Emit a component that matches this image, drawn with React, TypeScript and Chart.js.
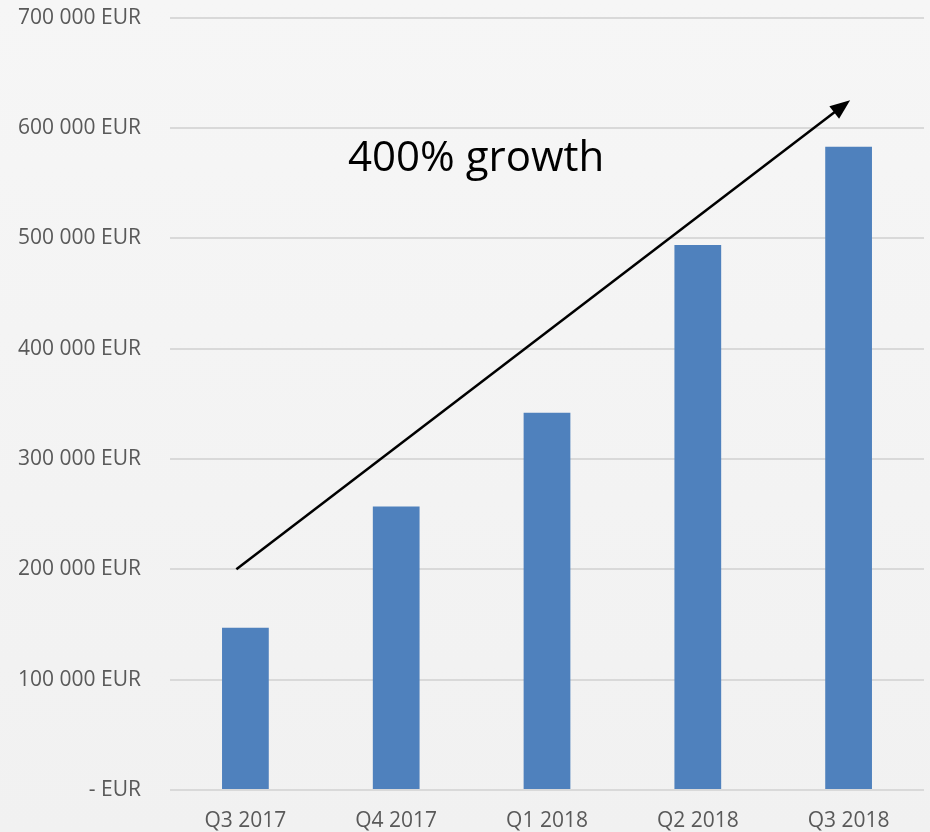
import React, { useEffect, useRef } from "react";
import { Chart, registerables } from "chart.js";

Chart.register(...registerables);

const categories = ["Q3 2017", "Q4 2017", "Q1 2018", "Q2 2018", "Q3 2018"];
const revenue = [147000, 257000, 342000, 494000, 583000];
const yTicks = [0, 100000, 200000, 300000, 400000, 500000, 600000, 700000];
const annotationText = "400% growth";
// arrow in data coordinates: [categoryIndex, value]
const arrowStart = [-0.06, 200000];
const arrowEnd = [4.01, 625000];
const textAnchor = [1.53, 572000];

const fmt = (v: number) => {
  if (v === 0) return "- EUR";
  return String(v).replace(/\B(?=(\d{3})+(?!\d))/g, " ") + " EUR";
};

const annotationPlugin = {
  id: "growthArrow",
  afterDatasetsDraw(chart: any) {
    const { ctx, scales } = chart;
    const xs = scales.x;
    const ys = scales.y;
    const x1 = xs.getPixelForValue(arrowStart[0]);
    const y1 = ys.getPixelForValue(arrowStart[1]);
    const x2 = xs.getPixelForValue(arrowEnd[0]);
    const y2 = ys.getPixelForValue(arrowEnd[1]);
    const ang = Math.atan2(y2 - y1, x2 - x1);
    const headLen = 20;
    const headW = 8;
    ctx.save();
    ctx.strokeStyle = "#000";
    ctx.fillStyle = "#000";
    ctx.lineWidth = 2.5;
    ctx.beginPath();
    ctx.moveTo(x1, y1);
    ctx.lineTo(x2 - Math.cos(ang) * headLen * 0.8, y2 - Math.sin(ang) * headLen * 0.8);
    ctx.stroke();
    const bx = x2 - Math.cos(ang) * headLen;
    const by = y2 - Math.sin(ang) * headLen;
    ctx.beginPath();
    ctx.moveTo(x2, y2);
    ctx.lineTo(bx + Math.sin(ang) * headW, by - Math.cos(ang) * headW);
    ctx.lineTo(bx - Math.sin(ang) * headW, by + Math.cos(ang) * headW);
    ctx.closePath();
    ctx.fill();
    const tx = xs.getPixelForValue(textAnchor[0]);
    const ty = ys.getPixelForValue(textAnchor[1]);
    ctx.font = "42px 'Open Sans'";
    ctx.textAlign = "center";
    ctx.textBaseline = "middle";
    ctx.fillText(annotationText, tx, ty);
    ctx.restore();
  },
};

const SHIFT = 24;

export default function App() {
  const ref = useRef<HTMLCanvasElement>(null);
  useEffect(() => {
    document.body.style.margin = "0";
    const chart = new Chart(ref.current!, {
      type: "bar",
      data: {
        labels: categories,
        datasets: [
          {
            data: revenue,
            backgroundColor: "#4f81bd",
            barPercentage: 0.62,
            categoryPercentage: 0.5,
          },
        ],
      },
      options: {
        animation: false,
        responsive: false,
        maintainAspectRatio: false,
        layout: { padding: { top: 0, right: 6, left: 0, bottom: 0 } },
        plugins: { legend: { display: false }, tooltip: { enabled: false } },
        scales: {
          x: {
            grid: { display: false, drawTicks: false },
            border: { display: false },
            ticks: { color: "#595959", font: { family: "'Open Sans'", size: 21 }, padding: 18 },
            afterFit: (s: any) => {
              s.height = 42;
            },
          },
          y: {
            min: 0,
            max: 700000,
            afterBuildTicks: (s: any) => {
              s.ticks = yTicks.map((v) => ({ value: v }));
            },
            grid: { color: "#d9d9d9", lineWidth: 2, drawTicks: false },
            border: { display: false },
            ticks: {
              color: "#595959",
              font: { family: "'Open Sans'", size: 21 },
              padding: 29,
              callback: (v: any) => fmt(Number(v)),
            },
            afterFit: (s: any) => {
              s.width = 170;
            },
          },
        },
      },
      plugins: [annotationPlugin],
    });
    return () => chart.destroy();
  }, []);
  return (
    <div
      style={{
        width: 930,
        height: 832,
        overflow: "hidden",
        background: "linear-gradient(to bottom, #f6f6f6, #f1f1f1)",
      }}
    >
      <canvas
        ref={ref}
        width={930}
        height={832 + SHIFT}
        style={{ display: "block", marginTop: -SHIFT }}
      />
    </div>
  );
}
